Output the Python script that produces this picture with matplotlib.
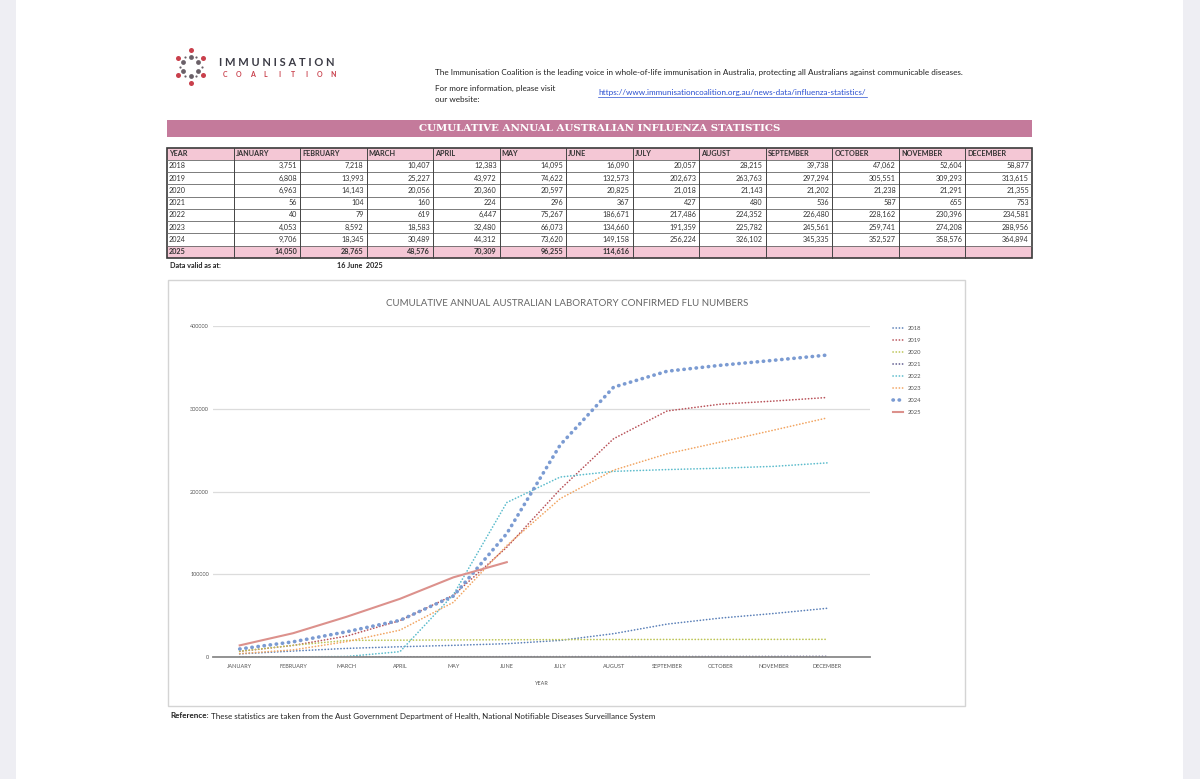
import matplotlib.pyplot as plt
import matplotlib.patches as mpatches
import numpy as np

# Table / chart data (cumulative lab confirmed flu notifications)
months = ['JANUARY', 'FEBRUARY', 'MARCH', 'APRIL', 'MAY', 'JUNE', 'JULY',
          'AUGUST', 'SEPTEMBER', 'OCTOBER', 'NOVEMBER', 'DECEMBER']
years = ['2018', '2019', '2020', '2021', '2022', '2023', '2024', '2025']

flu_2018 = [3751, 7218, 10407, 12383, 14095, 16090, 20057, 28215, 39738, 47062, 52604, 58877]
flu_2019 = [6808, 13993, 25227, 43972, 74622, 132573, 202673, 263763, 297294, 305551, 309293, 313615]
flu_2020 = [6963, 14143, 20056, 20360, 20597, 20825, 21018, 21143, 21202, 21238, 21291, 21355]
flu_2021 = [56, 104, 160, 224, 296, 367, 427, 480, 536, 587, 655, 753]
flu_2022 = [40, 79, 619, 6447, 75267, 186671, 217486, 224352, 226480, 228162, 230396, 234581]
flu_2023 = [4053, 8592, 18583, 32480, 66073, 134660, 191359, 225782, 245561, 259741, 274208, 288956]
flu_2024 = [9706, 18345, 30489, 44312, 73620, 149158, 256224, 326102, 345335, 352527, 358576, 364894]
flu_2025 = [14050, 28765, 48576, 70309, 96255, 114616]

series = [flu_2018, flu_2019, flu_2020, flu_2021, flu_2022, flu_2023, flu_2024, flu_2025]
colors = ['#5b80b8', '#b9535a', '#bcc455', '#5d5a8e', '#5cbccc', '#f2a562', '#7b9bd2', '#dc918c']

valid_date = '16 June  2025'

W, H = 1200, 779
fig = plt.figure(figsize=(W / 100, H / 100), dpi=100)
plt.rcParams['font.family'] = ['Lato', 'DejaVu Sans']

# page layer in pixel coordinates
page = fig.add_axes([0, 0, 1, 1])
page.set_xlim(0, W)
page.set_ylim(H, 0)
page.axis('off')

# grey margins of the viewer
page.add_patch(mpatches.Rectangle((0, 0), 16, H, color='#eeeef3', lw=0))
page.add_patch(mpatches.Rectangle((1183, 0), 17, H, color='#eeeef3', lw=0))

# logo
cx, cy = 190.5, 66.5
ang = np.deg2rad(90 + 60 * np.arange(6))
page.scatter(cx + 14.5 * np.cos(ang), cy - 16.5 * np.sin(ang), s=13, color='#c9404c', lw=0)
page.scatter(cx + 8.5 * np.cos(ang), cy - 9.5 * np.sin(ang), s=12, color='#6a6068', lw=0)
ang2 = ang + np.deg2rad(30)
page.scatter(cx + 11 * np.cos(ang2), cy - 11 * np.sin(ang2), s=2.5, color='#6a6068', lw=0)
page.text(219, 62, 'I M M U N I S A T I O N', fontsize=8.0, color='#3b3b45', va='center',
          fontweight='bold')
for i, ch in enumerate('COALITION'):
    page.text(225 + i * 13.5, 74, ch, fontsize=5, color='#c9404c', ha='center', va='center',
              fontweight='bold')

# intro text
fs_intro = 5.85
page.text(435, 72, 'The Immunisation Coalition is the leading voice in whole-of-life immunisation in '
          'Australia, protecting all Australians against communicable diseases.',
          fontsize=fs_intro, color='#222222', va='center')
page.text(435, 88, 'For more information, please visit', fontsize=fs_intro, color='#222222', va='center')
page.text(435, 99, 'our website:', fontsize=fs_intro, color='#222222', va='center')
page.text(598, 92, 'https://www.immunisationcoalition.org.au/news-data/influenza-statistics/',
          fontsize=fs_intro, color='#2a4fd0', va='center')
page.plot([598, 867], [96.5, 96.5], color='#2a4fd0', lw=0.5)

# banner
page.add_patch(mpatches.Rectangle((167, 120), 865, 16.5, color='#c47a9b', lw=0))
page.text(600, 128.5, 'CUMULATIVE ANNUAL AUSTRALIAN INFLUENZA STATISTICS', fontsize=7.4,
          color='white', fontweight='bold', family='DejaVu Serif', ha='center', va='center')

# table
tx0, tx1 = 167, 1032
ty0 = 147.5
rh = 12.25
cw = (tx1 - tx0) / 13
n_rows = len(years) + 1
page.add_patch(mpatches.Rectangle((tx0, ty0), tx1 - tx0, rh, color='#f4c7d5', lw=0))
page.add_patch(mpatches.Rectangle((tx0, ty0 + rh * 8), tx1 - tx0, rh, color='#f4c7d5', lw=0))
for r in range(1, n_rows):
    page.plot([tx0, tx1], [ty0 + r * rh] * 2, color='#666666', lw=0.6)
for c in range(1, 13):
    page.plot([tx0 + c * cw] * 2, [ty0, ty0 + n_rows * rh], color='#444444', lw=0.7)
page.add_patch(mpatches.Rectangle((tx0, ty0), tx1 - tx0, n_rows * rh, fill=False,
                                  ec='#3a3a3a', lw=1.2))
page.text(tx0 + 2, ty0 + rh / 2, 'YEAR', fontsize=5.2, fontweight='bold', color='#333333', va='center')
for c, m in enumerate(months):
    page.text(tx0 + (c + 1) * cw + 2, ty0 + rh / 2, m, fontsize=5.2, fontweight='bold',
              color='#333333', va='center')
for r, (yr, vals) in enumerate(zip(years, series)):
    yy = ty0 + (r + 1.5) * rh
    bold = 'bold' if yr == '2025' else 'normal'
    page.text(tx0 + 2, yy, yr, fontsize=5.2, color='#333333', va='center', fontweight=bold)
    for c, v in enumerate(vals):
        page.text(tx0 + (c + 2) * cw - 3, yy, f'{v:,}', fontsize=5.2, color='#333333',
                  va='center', ha='right', fontweight=bold)

page.text(170, 266, 'Data valid as at:', fontsize=5.2, fontweight='bold', color='#222222', va='center')
page.text(337, 266, valid_date, fontsize=5.2, fontweight='bold', color='#222222', va='center')

# chart frame
page.add_patch(mpatches.Rectangle((168, 280), 797, 426, fill=False, ec='#d4d4d4', lw=1))
page.text(567, 303, 'CUMULATIVE ANNUAL AUSTRALIAN LABORATORY CONFIRMED FLU NUMBERS',
          fontsize=7, color='#666666', ha='center', va='center')

page.text(170, 716, 'Reference:', fontsize=5.8, fontweight='bold', color='#222222', va='center')
page.text(211, 716, 'These statistics are taken from the Aust Government Department of Health, '
          'National Notifiable Diseases Surveillance System', fontsize=5.8, color='#222222', va='center')

# chart
ax = fig.add_axes([213 / W, 1 - 657 / H, 657 / W, (657 - 326) / H])
ax.patch.set_alpha(0)
x = np.arange(len(months))
for yr, vals, col in zip(years, series, colors):
    xs = x[:len(vals)]
    if yr == '2025':
        ax.plot(xs, vals, color=col, lw=1.5, label=yr)
    elif yr == '2024':
        ax.plot(xs, vals, color=col, lw=2.6, linestyle=(0, (0.1, 1.6)),
                dash_capstyle='round', label=yr)
    else:
        ax.plot(xs, vals, color=col, lw=1.2, linestyle=(0, (0.1, 1.8)),
                dash_capstyle='round', label=yr)

ax.set_xlim(-0.5, 11.8)
ax.set_ylim(0, 400000)
ax.set_yticks([0, 100000, 200000, 300000, 400000])
ax.set_yticklabels(['0', '100000', '200000', '300000', '400000'])
ax.set_xticks(x)
ax.set_xticklabels(months)
ax.tick_params(axis='both', length=0, labelsize=4, labelcolor='#555555')
ax.tick_params(axis='y', pad=3)
ax.tick_params(axis='x', pad=5)
ax.grid(axis='y', color='#dcdcdc', lw=0.9)
ax.set_axisbelow(True)
for s in ['top', 'right', 'left']:
    ax.spines[s].set_visible(False)
ax.spines['bottom'].set_color('#8a8a8a')
ax.spines['bottom'].set_linewidth(1.3)
ax.set_xlabel('YEAR', fontsize=4, color='#555555', labelpad=9)

ax.legend(loc='upper left', bbox_to_anchor=(888 / W, 1 - 321 / H), bbox_transform=fig.transFigure,
          frameon=False, fontsize=4.2, handlelength=1.6, labelspacing=1.17, handletextpad=0.9,
          labelcolor='#555555')

fig.savefig('out.png', dpi=100, facecolor='white')
